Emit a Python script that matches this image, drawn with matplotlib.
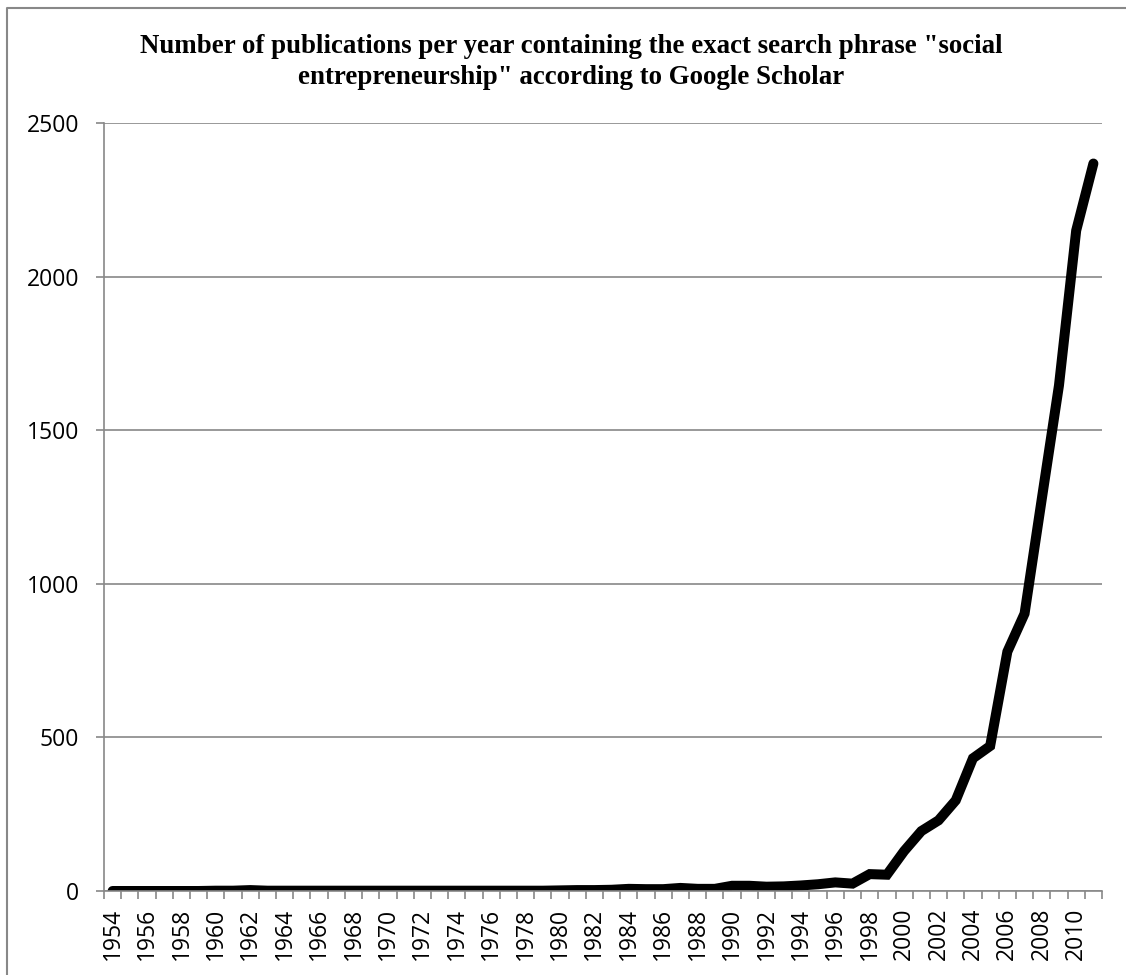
import matplotlib.pyplot as plt
from matplotlib.lines import Line2D
from matplotlib.ticker import FixedLocator, NullFormatter

# Google Scholar hits for "social entrepreneurship", per year
years = list(range(1954, 2012))
counts = [
    0, 0, 0, 0, 0, 0, 1, 1, 3, 1,      # 1954-1963
    1, 1, 1, 1, 1, 1, 1, 1, 1, 1,      # 1964-1973
    1, 1, 1, 1, 1, 1, 2, 3, 3, 4,      # 1974-1983
    7, 6, 6, 10, 7, 7, 17, 17, 14, 15, # 1984-1993
    18, 22, 28, 24, 55, 53, 130, 195, 230, 295,  # 1994-2003
    432, 472, 779, 903, 1276, 1646, 2150, 2368,  # 2004-2011
]
year_labels = [str(y) if (y - 1954) % 2 == 0 else '' for y in years]
y_ticks = [0, 500, 1000, 1500, 2000, 2500]
title_lines = ['Number of publications per year containing the exact search phrase "social',
               'entrepreneurship" according to Google Scholar']

grey = '#888888'
tick_font = dict(family='Open Sans', size=16.5)

fig = plt.figure(figsize=(11.26, 9.75), dpi=100)
ax = fig.add_axes([104 / 1126, 1 - 891 / 975, (1102 - 104) / 1126, (891 - 123) / 975])

x = list(range(len(years)))
ax.plot(x, counts, color='black', linewidth=7.2, solid_capstyle='round', solid_joinstyle='miter')

ax.set_xlim(-0.5, len(years) - 0.5)
ax.set_ylim(0, 2500)

# y axis
ax.set_yticks(y_ticks)
ax.set_yticklabels([str(v) for v in y_ticks], fontdict=tick_font)
ax.yaxis.grid(True, color=grey, linewidth=1.2)
ax.tick_params(axis='y', length=6, width=1.2, color=grey, pad=12)

# x axis: labels every 2nd year, tick marks between categories
ax.set_xticks([i for i, l in enumerate(year_labels) if l])
ax.set_xticklabels([l for l in year_labels if l], rotation=90, fontdict=tick_font)
ax.tick_params(axis='x', which='major', length=0, pad=12)
ax.xaxis.set_minor_locator(FixedLocator([i - 0.5 for i in range(len(years) + 1)]))
ax.xaxis.set_minor_formatter(NullFormatter())
ax.tick_params(axis='x', which='minor', length=6, width=1.2, color=grey, direction='out')

for side in ['top', 'right']:
    ax.spines[side].set_visible(False)
for side in ['left', 'bottom']:
    ax.spines[side].set_color(grey)
    ax.spines[side].set_linewidth(1.2)
ax.set_axisbelow(True)

for i, (line, base_y) in enumerate(zip(title_lines, [53, 84])):
    fig.text(571 / 1126, 1 - base_y / 975, line,
             ha='center', va='baseline', fontsize=19.4, fontweight='bold',
             family='Liberation Serif')

# outer chart frame (only left and top edges visible)
fig.add_artist(Line2D([7 / 1126, 7 / 1126, 1.0], [0.0, 1 - 8 / 975, 1 - 8 / 975],
                      transform=fig.transFigure, color=grey, linewidth=1.5))

fig.savefig('out.png', dpi=100, facecolor='white')
